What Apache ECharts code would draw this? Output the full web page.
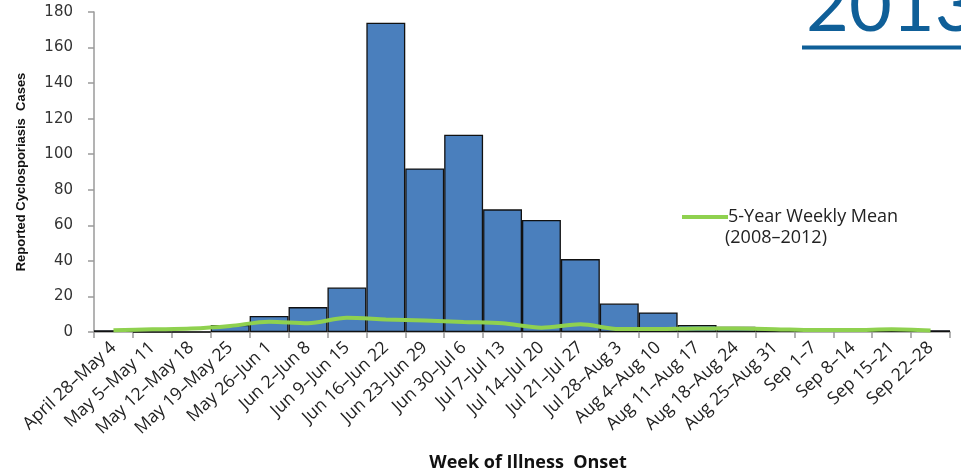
<!DOCTYPE html>
<html>
<head>
<meta charset="utf-8">
<script src="https://cdn.jsdelivr.net/npm/echarts@6/dist/echarts.min.js"></script>
<style>
html,body{margin:0;padding:0;background:#fff;}
#chart{width:961px;height:474px;}
</style>
</head>
<body>
<div id="chart"></div>
<script>
var weeks = ['April 28–May 4','May 5–May 11','May 12–May 18','May 19–May 25','May 26–Jun 1','Jun 2–Jun 8','Jun 9–Jun 15','Jun 16–Jun 22','Jun 23–Jun 29','Jun 30–Jul 6','Jul 7–Jul 13','Jul 14–Jul 20','Jul 21–Jul 27','Jul 28–Aug 3','Aug 4–Aug 10','Aug 11–Aug 17','Aug 18–Aug 24','Aug 25–Aug 31','Sep 1–7','Sep 8–14','Sep 15–21','Sep 22–28'];
var cases2013 = [1,0,0,4,9,14,25,174,92,111,69,63,41,16,11,4,3,2,1,2,1,1];
var fiveYearMean = [1,1.5,1.9,3.4,5.8,4.9,8,7.1,6.4,5.6,4.9,2.4,4.3,1.7,1.7,2,1.9,1.6,1.1,1.1,1.5,0.8];
var yTicks = [0,20,40,60,80,100,120,140,160,180];
var meanName = '5-Year Weekly Mean';
var meanYears = '(2008–2012)';
var bigTitle = '2013';

var chart = echarts.init(document.getElementById('chart'));
chart.setOption({
  animation: false,
  backgroundColor: '#ffffff',
  grid: {left: 94, right: 11, top: 12, bottom: 142, containLabel: false, outerBoundsMode: 'none'},
  legend: {
    data: [meanName],
    left: 677, top: 203,
    icon: 'rect', itemWidth: 46, itemHeight: 4, itemGap: 4,
    textStyle: {fontFamily: 'Open Sans', fontSize: 18, color: '#222', padding: [0, 0, 0, -5]}
  },
  graphic: [
    {type: 'text', left: 725, top: 229, style: {text: meanYears, font: '18px "Open Sans"', fill: '#222'}},
    {type: 'text', x: 806, y: 7, style: {text: bigTitle, font: '74px Lato', fill: '#0f5f98', verticalAlign: 'middle'}},
    {type: 'rect', shape: {x: 802, y: 45.5, width: 170, height: 4}, style: {fill: '#0f5f98'}}
  ],
  xAxis: {
    type: 'category',
    data: weeks,
    axisLine: {lineStyle: {color: '#9a9a9a', width: 1.5}},
    axisTick: {show: true, length: 6, alignWithLabel: false, lineStyle: {color: '#9a9a9a', width: 1.5}},
    axisLabel: {interval: 0, rotate: 43, margin: 13, fontFamily: 'Open Sans', fontSize: 17.5, color: '#222'},
    name: 'Week of Illness  Onset',
    nameLocation: 'middle', nameGap: 122,
    nameTextStyle: {fontFamily: 'Open Sans', fontWeight: 'bold', fontSize: 18, color: '#111', padding: [0, 0, 0, 12]}
  },
  yAxis: {
    type: 'value',
    min: yTicks[0], max: yTicks[yTicks.length - 1], interval: yTicks[1] - yTicks[0],
    axisLine: {show: true, lineStyle: {color: '#9a9a9a', width: 1.5}},
    axisTick: {show: true, length: 6, lineStyle: {color: '#9a9a9a', width: 1.5}},
    splitLine: {show: false},
    axisLabel: {fontFamily: 'DejaVu Sans', fontSize: 15, color: '#333', margin: 21},
    name: 'Reported Cyclosporiasis  Cases',
    nameLocation: 'middle', nameGap: 66, nameRotate: 90,
    nameTextStyle: {fontFamily: 'Liberation Sans Narrow, Liberation Sans', fontWeight: 'bold', fontSize: 13, color: '#111'}
  },
  series: [
    {
      type: 'bar', name: 'Cases 2013', data: cases2013,
      barCategoryGap: '0%',
      itemStyle: {color: '#4a7fbd', borderColor: '#111', borderWidth: 1.3}
    },
    {
      type: 'line', name: meanName, data: fiveYearMean,
      smooth: 0.3, showSymbol: false, symbol: 'none',
      lineStyle: {color: '#8fd14f', width: 4},
      itemStyle: {color: '#8fd14f'}
    }
  ]
});
</script>
</body>
</html>
